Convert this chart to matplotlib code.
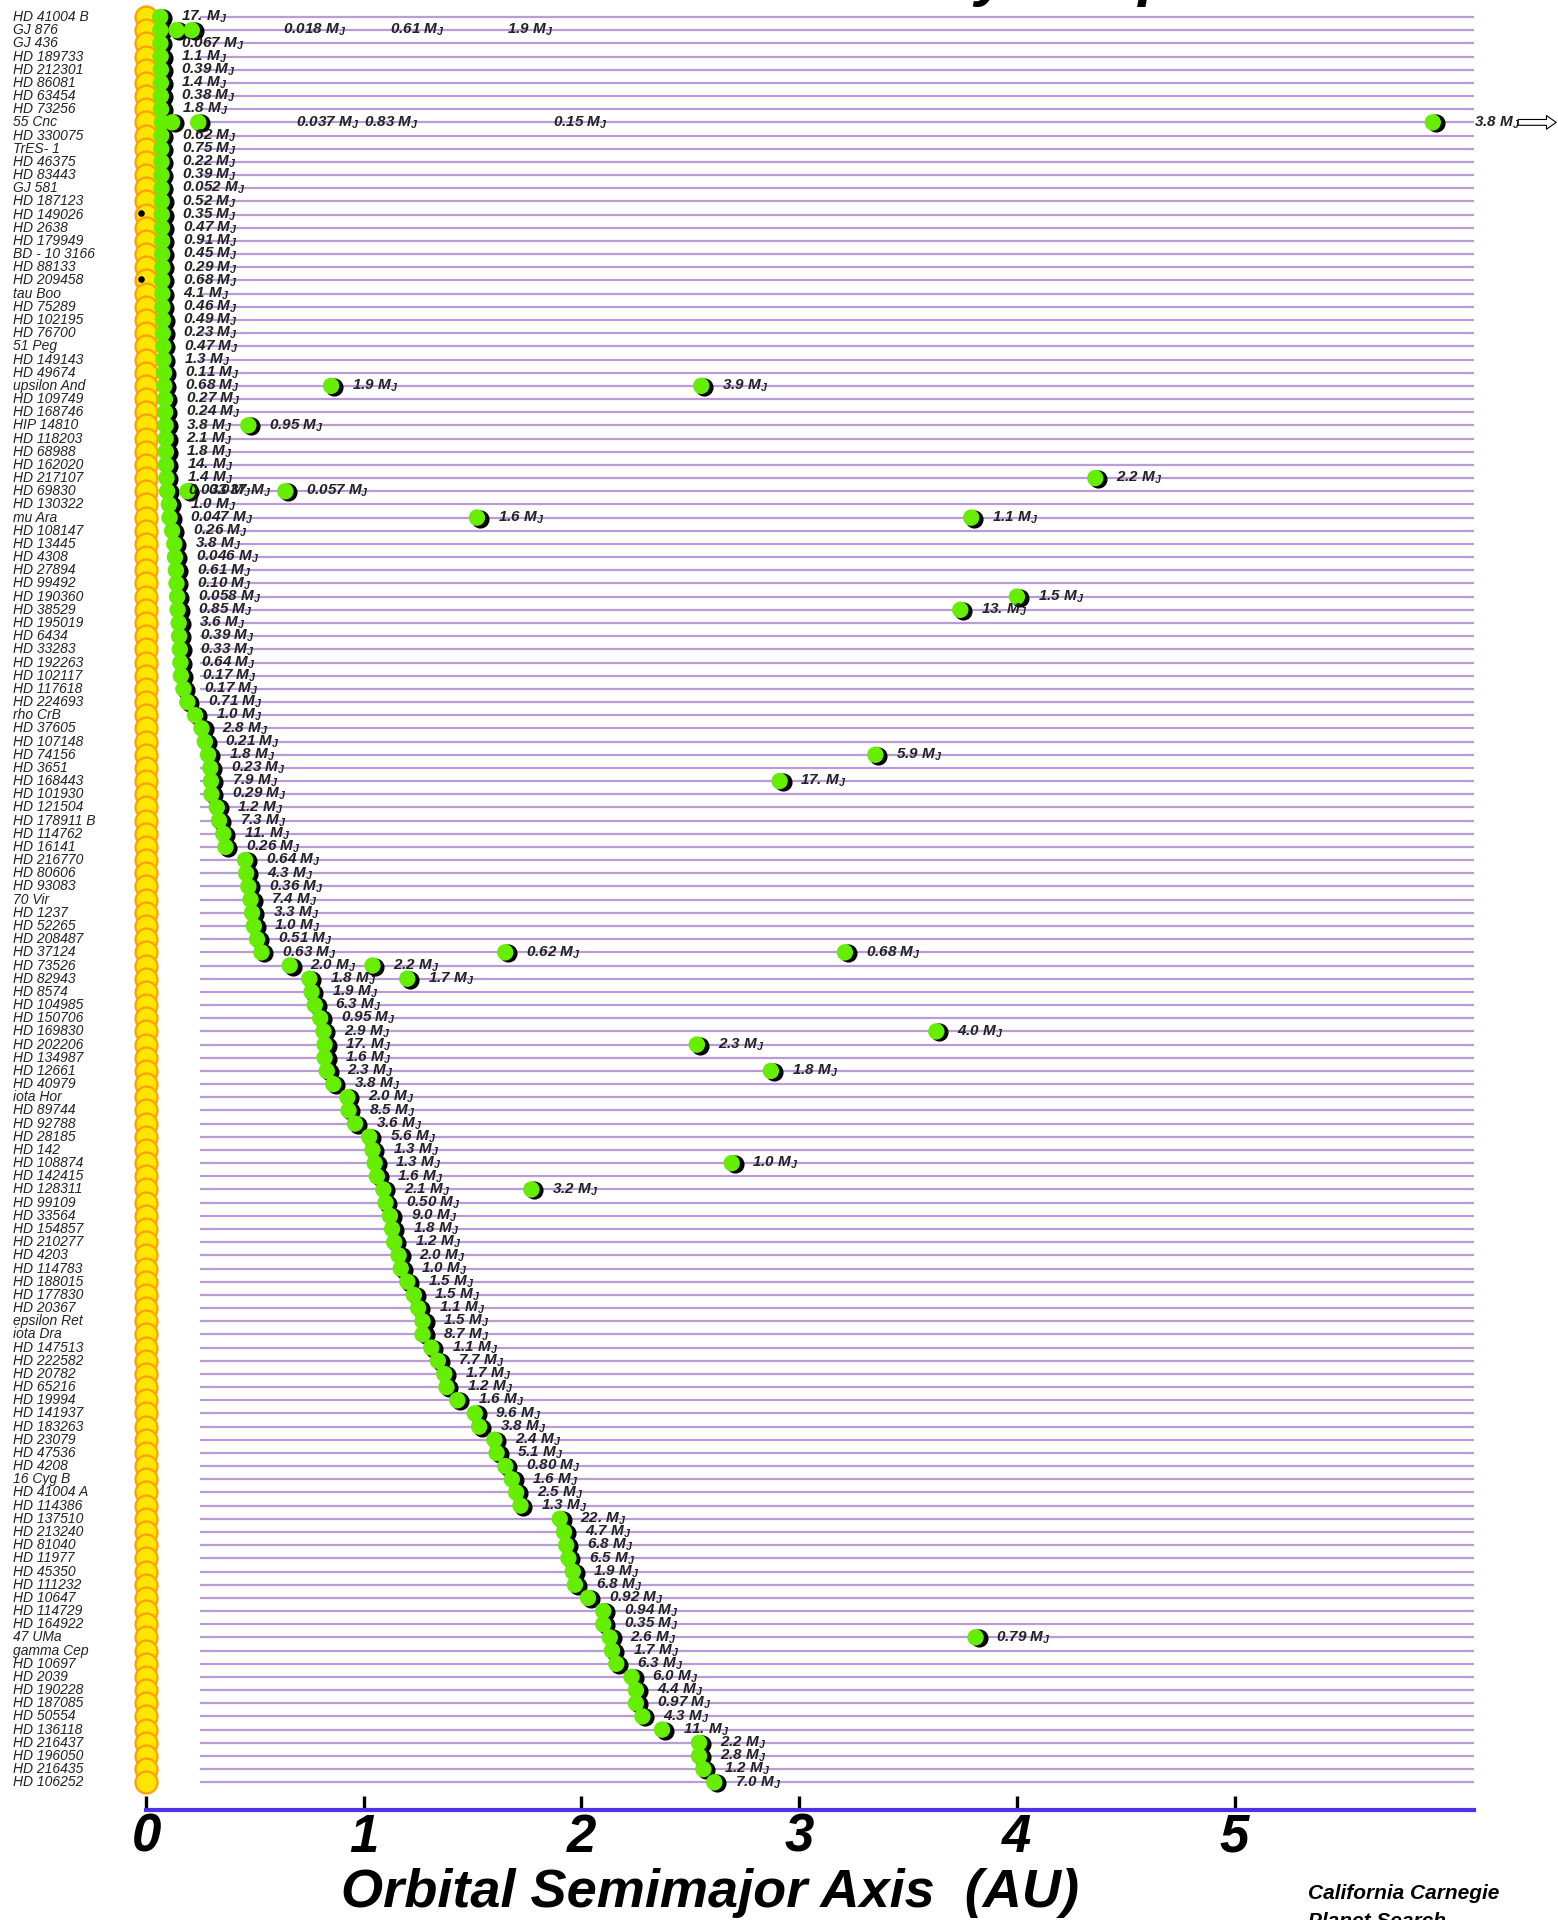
import numpy as np
import matplotlib
matplotlib.use('Agg')
import matplotlib.pyplot as plt
import matplotlib.transforms as mtransforms


stars = ['HD 41004 B', 'GJ 876', 'GJ 436', 'HD 189733', 'HD 212301', 'HD 86081', 'HD 63454', 'HD 73256',
         '55 Cnc', 'HD 330075', 'TrES- 1', 'HD 46375', 'HD 83443', 'GJ 581', 'HD 187123', 'HD 149026',
         'HD 2638', 'HD 179949', 'BD - 10 3166', 'HD 88133', 'HD 209458', 'tau Boo', 'HD 75289', 'HD 102195',
         'HD 76700', '51 Peg', 'HD 149143', 'HD 49674', 'upsilon And', 'HD 109749', 'HD 168746', 'HIP 14810',
         'HD 118203', 'HD 68988', 'HD 162020', 'HD 217107', 'HD 69830', 'HD 130322', 'mu Ara', 'HD 108147',
         'HD 13445', 'HD 4308', 'HD 27894', 'HD 99492', 'HD 190360', 'HD 38529', 'HD 195019', 'HD 6434',
         'HD 33283', 'HD 192263', 'HD 102117', 'HD 117618', 'HD 224693', 'rho CrB', 'HD 37605', 'HD 107148',
         'HD 74156', 'HD 3651', 'HD 168443', 'HD 101930', 'HD 121504', 'HD 178911 B', 'HD 114762', 'HD 16141',
         'HD 216770', 'HD 80606', 'HD 93083', '70 Vir', 'HD 1237', 'HD 52265', 'HD 208487', 'HD 37124',
         'HD 73526', 'HD 82943', 'HD 8574', 'HD 104985', 'HD 150706', 'HD 169830', 'HD 202206', 'HD 134987',
         'HD 12661', 'HD 40979', 'iota Hor', 'HD 89744', 'HD 92788', 'HD 28185', 'HD 142', 'HD 108874',
         'HD 142415', 'HD 128311', 'HD 99109', 'HD 33564', 'HD 154857', 'HD 210277', 'HD 4203', 'HD 114783',
         'HD 188015', 'HD 177830', 'HD 20367', 'epsilon Ret', 'iota Dra', 'HD 147513', 'HD 222582', 'HD 20782',
         'HD 65216', 'HD 19994', 'HD 141937', 'HD 183263', 'HD 23079', 'HD 47536', 'HD 4208', '16 Cyg B',
         'HD 41004 A', 'HD 114386', 'HD 137510', 'HD 213240', 'HD 81040', 'HD 11977', 'HD 45350', 'HD 111232',
         'HD 10647', 'HD 114729', 'HD 164922', '47 UMa', 'gamma Cep', 'HD 10697', 'HD 2039', 'HD 190228',
         'HD 187085', 'HD 50554', 'HD 136118', 'HD 216437', 'HD 196050', 'HD 216435', 'HD 106252']

# semimajor axis (AU) of the innermost planet
a_inner = [0.065, 0.066, 0.066, 0.067, 0.068, 0.068, 0.068, 0.069, 0.072, 0.070,
           0.070, 0.071, 0.071, 0.071, 0.072, 0.072, 0.073, 0.074, 0.074, 0.075,
           0.074, 0.075, 0.075, 0.077, 0.077, 0.079, 0.080, 0.083, 0.084, 0.087,
           0.088, 0.090, 0.090, 0.091, 0.092, 0.094, 0.097, 0.105, 0.108, 0.120,
           0.130, 0.133, 0.137, 0.140, 0.143, 0.145, 0.150, 0.152, 0.155, 0.158,
           0.160, 0.172, 0.190, 0.225, 0.255, 0.270, 0.285, 0.295, 0.298, 0.300,
           0.325, 0.335, 0.355, 0.365, 0.455, 0.460, 0.470, 0.480, 0.487, 0.495,
           0.510, 0.530, 0.660, 0.750, 0.760, 0.775, 0.800, 0.815, 0.820, 0.820,
           0.830, 0.860, 0.925, 0.930, 0.960, 1.025, 1.040, 1.050, 1.060, 1.090,
           1.100, 1.120, 1.130, 1.140, 1.160, 1.170, 1.200, 1.230, 1.250, 1.270,
           1.270, 1.310, 1.340, 1.370, 1.380, 1.430, 1.510, 1.530, 1.600, 1.610,
           1.650, 1.680, 1.700, 1.720, 1.900, 1.920, 1.930, 1.940, 1.960, 1.970,
           2.030, 2.100, 2.100, 2.130, 2.140, 2.160, 2.230, 2.250, 2.250, 2.280,
           2.370, 2.540, 2.540, 2.560, 2.610]

m_inner = ['17.', '0.018', '0.067', '1.1', '0.39', '1.4', '0.38', '1.8', '0.037', '0.62',
           '0.75', '0.22', '0.39', '0.052', '0.52', '0.35', '0.47', '0.91', '0.45', '0.29',
           '0.68', '4.1', '0.46', '0.49', '0.23', '0.47', '1.3', '0.11', '0.68', '0.27',
           '0.24', '3.8', '2.1', '1.8', '14.', '1.4', '0.033', '1.0', '0.047', '0.26',
           '3.8', '0.046', '0.61', '0.10', '0.058', '0.85', '3.6', '0.39', '0.33', '0.64',
           '0.17', '0.17', '0.71', '1.0', '2.8', '0.21', '1.8', '0.23', '7.9', '0.29',
           '1.2', '7.3', '11.', '0.26', '0.64', '4.3', '0.36', '7.4', '3.3', '1.0',
           '0.51', '0.63', '2.0', '1.8', '1.9', '6.3', '0.95', '2.9', '17.', '1.6',
           '2.3', '3.8', '2.0', '8.5', '3.6', '5.6', '1.3', '1.3', '1.6', '2.1',
           '0.50', '9.0', '1.8', '1.2', '2.0', '1.0', '1.5', '1.5', '1.1', '1.5',
           '8.7', '1.1', '7.7', '1.7', '1.2', '1.6', '9.6', '3.8', '2.4', '5.1',
           '0.80', '1.6', '2.5', '1.3', '22.', '4.7', '6.8', '6.5', '1.9', '6.8',
           '0.92', '0.94', '0.35', '2.6', '1.7', '6.3', '6.0', '4.4', '0.97', '4.3',
           '11.', '2.2', '2.8', '1.2', '7.0']

# outer planets of the multi-planet systems
extra_star = ['GJ 876', 'GJ 876', '55 Cnc', '55 Cnc', '55 Cnc', 'upsilon And', 'upsilon And',
              'HIP 14810', 'HD 217107', 'HD 69830', 'HD 69830', 'mu Ara', 'mu Ara', 'HD 190360',
              'HD 38529', 'HD 74156', 'HD 168443', 'HD 37124', 'HD 37124', 'HD 73526', 'HD 82943',
              'HD 169830', 'HD 202206', 'HD 12661', 'HD 108874', 'HD 128311', '47 UMa']
extra_a = [0.14, 0.21, 0.12, 0.24, 5.91, 0.85, 2.55,
           0.47, 4.36, 0.19, 0.64, 1.52, 3.79, 4.00,
           3.74, 3.35, 2.91, 1.65, 3.21, 1.04, 1.20,
           3.63, 2.53, 2.87, 2.69, 1.77, 3.81]
extra_m = ['0.61', '1.9', '0.83', '0.15', '3.8', '1.9', '3.9',
           '0.95', '2.2', '0.037', '0.057', '1.6', '1.1', '1.5',
           '13.', '5.9', '17.', '0.62', '0.68', '2.2', '1.7',
           '4.0', '2.3', '1.8', '1.0', '3.2', '0.79']

transit_stars = ['HD 149026', 'HD 209458']

# rows whose mass labels are set out to the right instead of beside the dots
label_x_override = {'GJ 876': [0.63, 1.12, 1.66], '55 Cnc': [0.69, 1.0, 1.87, 6.10]}

plt.rcParams['font.family'] = ['Liberation Sans', 'DejaVu Sans']
plt.rcParams['mathtext.fontset'] = 'custom'
plt.rcParams['mathtext.it'] = 'Liberation Sans:italic:bold'
plt.rcParams['mathtext.rm'] = 'Liberation Sans:bold'

fig = plt.figure(figsize=(15.58, 19.2), dpi=100)
ax = fig.add_axes([0, 0.0573, 1, 0.9427])
rows = np.arange(len(stars))
ax.set_xlim(-0.6706, 6.4854)
ax.set_ylim(136.1, -1.29)

ax.hlines(rows, 0.25, 6.1, color='#b99bd8', lw=1.6, zorder=1)

# the stars
ax.scatter(np.zeros(len(rows)), rows, s=250, c='#ffe600', edgecolors='#ffa000', linewidths=1.6, zorder=3)
tr = [stars.index(s) for s in transit_stars]
ax.scatter(np.full(len(tr), -0.025), np.array(tr) - 0.1, s=14, c='black', marker='o', zorder=3.5)

# collect planets per row
row_of = {s: i for i, s in enumerate(stars)}
pa = np.array(list(a_inner) + list(extra_a))
pr = np.array(list(rows) + [row_of[s] for s in extra_star])
pm = list(m_inner) + list(extra_m)

shadow = mtransforms.offset_copy(ax.transData, fig=fig, x=3, y=-1, units='dots')
ax.scatter(pa, pr, s=145, c='black', transform=shadow, zorder=4)
ax.scatter(pa, pr, s=140, c='#66ee00', edgecolors='none', zorder=5)

for i, s in enumerate(stars):
    ax.text(-0.61, i, s, fontsize=10, style='italic', color='#222222', va='center', ha='left', zorder=6)
    idx = [k for k in range(len(pa)) if pr[k] == i]
    idx.sort(key=lambda k: pa[k])
    for j, k in enumerate(idx):
        x = pa[k] + 0.095
        if s in label_x_override:
            x = label_x_override[s][j]
        ax.text(x, i, pm[k] + ' $M_J$', fontsize=11, fontweight='bold', style='italic',
                color='#222222', va='center', ha='left', zorder=6)

cnc = row_of['55 Cnc']
ax.annotate('', xy=(6.49, cnc), xytext=(6.29, cnc), annotation_clip=False,
            arrowprops=dict(arrowstyle='simple,head_length=0.5,head_width=0.7,tail_width=0.3',
                            mutation_scale=14, fc='white', ec='black', lw=0.8), zorder=6)

for side in ['top', 'left', 'right']:
    ax.spines[side].set_visible(False)
ax.spines['bottom'].set_bounds(0, 6.1)
ax.spines['bottom'].set_color('#5030e8')
ax.spines['bottom'].set_linewidth(3)
ax.set_yticks([])
ax.set_xticks(range(6))
ax.set_xticklabels([str(v) for v in range(6)])
ax.tick_params(axis='x', direction='in', length=10, width=2.4, color='black', pad=2)
for lab in ax.get_xticklabels():
    lab.set_fontsize(38)
    lab.set_fontweight('bold')
    lab.set_style('italic')
ax.patch.set_visible(False)

fig.text(710 / 1558, 1 - 1907 / 1920, 'Orbital Semimajor Axis  (AU)', fontsize=39,
         fontweight='bold', style='italic', ha='center', va='baseline')
fig.text(1308 / 1558, 1 - 1899 / 1920, 'California Carnegie', fontsize=15, fontweight='bold',
         style='italic', ha='left', va='baseline')
fig.text(1308 / 1558, 1 - 1927 / 1920, 'Planet Search', fontsize=15, fontweight='bold',
         style='italic', ha='left', va='baseline')
# title sits above the top edge, only its descenders show
fig.text(802 / 1558, 1 + 6 / 1920, 'Nearby Exoplanets', fontsize=44, fontweight='bold',
         style='italic', ha='left', va='baseline')

fig.savefig('out.png', dpi=100)
